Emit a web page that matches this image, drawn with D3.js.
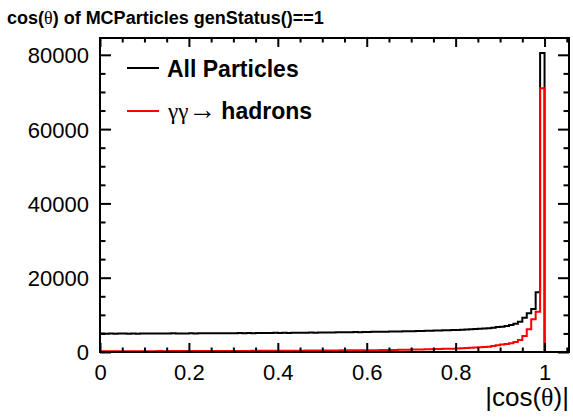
<!DOCTYPE html>
<html>
<head>
<meta charset="utf-8">
<script src="https://cdn.jsdelivr.net/npm/d3@7"></script>
<style>
  html, body { margin: 0; padding: 0; background: #fff; }
  svg { display: block; }
  text { font-family: "Liberation Sans", Arial, Helvetica, sans-serif; }
  .sym { font-family: "Liberation Serif", "Times New Roman", serif; font-weight: normal; }
</style>
</head>
<body>
<script>
// ---------- data ----------
const binWidth = 0.01;
const nBins = 100;
const binLow = d3.range(nBins).map(i => +(i * binWidth).toFixed(2));

const allParticles = [
  4950, 4900, 4950, 4920, 4980, 4950, 4900, 4960, 4940, 4980,
  4950, 4990, 4960, 5000, 4970, 4990, 5020, 4980, 5010, 5000,
  5030, 5000, 5040, 5020, 5060, 5030, 5050, 5070, 5040, 5080,
  5060, 5090, 5070, 5100, 5080, 5120, 5100, 5130, 5110, 5150,
  5130, 5160, 5140, 5180, 5170, 5200, 5190, 5220, 5210, 5250,
  5240, 5270, 5260, 5300, 5290, 5330, 5320, 5360, 5350, 5390,
  5390, 5420, 5430, 5460, 5470, 5500, 5510, 5540, 5560, 5590,
  5610, 5640, 5660, 5700, 5720, 5760, 5790, 5830, 5870, 5920,
  5950, 6000, 6050, 6120, 6180, 6250, 6320, 6400, 6550, 6700,
  6800, 7000, 7250, 7600, 8150, 9200, 10400, 11600, 16100, 80500
];

const ggHadrons = [
  200, 210, 205, 215, 210, 220, 215, 225, 220, 230,
  225, 235, 230, 240, 235, 245, 240, 250, 248, 255,
  255, 260, 262, 266, 268, 272, 275, 279, 282, 286,
  290, 294, 298, 302, 306, 311, 316, 321, 326, 332,
  338, 344, 350, 356, 362, 369, 376, 383, 390, 398,
  406, 414, 422, 430, 438, 446, 455, 464, 473, 482,
  470, 485, 500, 516, 533, 551, 570, 590, 611, 633,
  656, 680, 705, 731, 758, 786, 815, 845, 876, 908,
  960, 1010, 1070, 1130, 1200, 1260, 1330, 1400, 1600, 1800,
  2000, 2170, 2340, 2700, 3230, 4300, 6100, 8800, 10850, 71000
];

const xMajorTicks = [0, 0.2, 0.4, 0.6, 0.8, 1];
const xMinorTicks = [0.05, 0.1, 0.15, 0.25, 0.3, 0.35, 0.45, 0.5, 0.55, 0.65, 0.7, 0.75, 0.85, 0.9, 0.95, 1.05];
const yMajorTicks = [0, 20000, 40000, 60000, 80000];
const yMinorTicks = [5000, 10000, 15000, 25000, 30000, 35000, 45000, 50000, 55000, 65000, 70000, 75000];
const xDomain = [0, 1.055];
const yDomain = [0, 84525];

// ---------- layout ----------
const W = 573, H = 417;
const L = 100, R = 569, T = 38, B = 352;

const svg = d3.select("body").append("svg").attr("width", W).attr("height", H);

const x = d3.scaleLinear().domain(xDomain).range([L, R]);
const y = d3.scaleLinear().domain(yDomain).range([B, T]);

// histogram paths
function stepPath(vals) {
  const p = d3.path();
  p.moveTo(x(binLow[0]), y(vals[0]));
  vals.forEach((v, i) => {
    p.lineTo(x(binLow[i]), y(v));
    p.lineTo(x(binLow[i] + binWidth), y(v));
  });
  const xe = binLow[nBins - 1] + binWidth;
  p.lineTo(x(xe), y(0));
  p.lineTo(x(xe + 0.012), y(0));
  return p.toString();
}

svg.append("path").attr("d", stepPath(allParticles))
  .attr("fill", "none").attr("stroke", "#000").attr("stroke-width", 2);
svg.append("path").attr("d", stepPath(ggHadrons))
  .attr("fill", "none").attr("stroke", "#ff0000").attr("stroke-width", 2);

// axes (ticks inside, ROOT style)
const fs = 22;
const gx = svg.append("g").attr("transform", `translate(0,${B})`)
  .call(d3.axisBottom(x).tickValues(xMajorTicks).tickSize(-9).tickSizeOuter(0).tickPadding(20)
    .tickFormat(d => d3.format("")(d)));
const gxm = svg.append("g").attr("transform", `translate(0,${B})`)
  .call(d3.axisBottom(x).tickValues(xMinorTicks).tickSize(-4.5).tickSizeOuter(0).tickFormat(""));
const gxt = svg.append("g").attr("transform", `translate(0,${T})`)
  .call(d3.axisTop(x).tickValues(xMajorTicks).tickSize(-9).tickSizeOuter(0).tickFormat(""));
const gxtm = svg.append("g").attr("transform", `translate(0,${T})`)
  .call(d3.axisTop(x).tickValues(xMinorTicks).tickSize(-4.5).tickSizeOuter(0).tickFormat(""));

const gy = svg.append("g").attr("transform", `translate(${L},0)`)
  .call(d3.axisLeft(y).tickValues(yMajorTicks).tickSize(-11).tickSizeOuter(0).tickPadding(11)
    .tickFormat(d3.format("d")));
const gym = svg.append("g").attr("transform", `translate(${L},0)`)
  .call(d3.axisLeft(y).tickValues(yMinorTicks).tickSize(-5.5).tickSizeOuter(0).tickFormat(""));
const gyr = svg.append("g").attr("transform", `translate(${R},0)`)
  .call(d3.axisRight(y).tickValues(yMajorTicks).tickSize(-11).tickSizeOuter(0).tickFormat(""));
const gyrm = svg.append("g").attr("transform", `translate(${R},0)`)
  .call(d3.axisRight(y).tickValues(yMinorTicks).tickSize(-5.5).tickSizeOuter(0).tickFormat(""));

[gx, gxm, gxt, gxtm, gy, gym, gyr, gyrm].forEach(g => {
  g.select(".domain").remove();
  g.selectAll(".tick line").attr("stroke", "#000").attr("stroke-width", 2);
  g.selectAll(".tick text").attr("fill", "#000").attr("font-size", fs)
    .attr("font-family", '"Liberation Sans", Arial, sans-serif');
});
gx.selectAll(".tick text").attr("dy", "0.71em").attr("y", 12);
gy.selectAll(".tick text").attr("dy", "0.36em");

// frame
svg.append("rect").attr("x", L).attr("y", T).attr("width", R - L).attr("height", B - T)
  .attr("fill", "none").attr("stroke", "#000").attr("stroke-width", 2);

// title
const title = svg.append("text").attr("x", 7).attr("y", 24)
  .attr("font-size", 18).attr("font-weight", "bold").attr("fill", "#000");
title.append("tspan").text("cos(");
title.append("tspan").attr("class", "sym").text("θ");
title.append("tspan").text(") of MCParticles genStatus()==1");

// x axis title
const xt = svg.append("text").attr("x", R).attr("y", 406).attr("text-anchor", "end")
  .attr("font-size", 26).attr("fill", "#000");
xt.append("tspan").text("|cos(");
xt.append("tspan").attr("class", "sym").text("θ");
xt.append("tspan").text(")|");

// legend
const legend = [
  { color: "#000", y: 68 },
  { color: "#ff0000", y: 111 }
];
svg.append("line").attr("x1", 127).attr("x2", 159).attr("y1", legend[0].y).attr("y2", legend[0].y)
  .attr("stroke", legend[0].color).attr("stroke-width", 2);
svg.append("line").attr("x1", 127).attr("x2", 159).attr("y1", legend[1].y).attr("y2", legend[1].y)
  .attr("stroke", legend[1].color).attr("stroke-width", 2);
svg.append("text").attr("x", 167).attr("y", 77).attr("font-size", 23).attr("font-weight", "bold")
  .attr("fill", "#000").text("All Particles");
const l2 = svg.append("text").attr("x", 168).attr("y", 119).attr("font-size", 23).attr("fill", "#000");
l2.append("tspan").attr("class", "sym").text("γγ");
l2.append("tspan").attr("class", "sym").attr("font-size", 28).text("→");
l2.append("tspan").attr("font-weight", "bold").attr("dx", 5).text("hadrons");
</script>
</body>
</html>
